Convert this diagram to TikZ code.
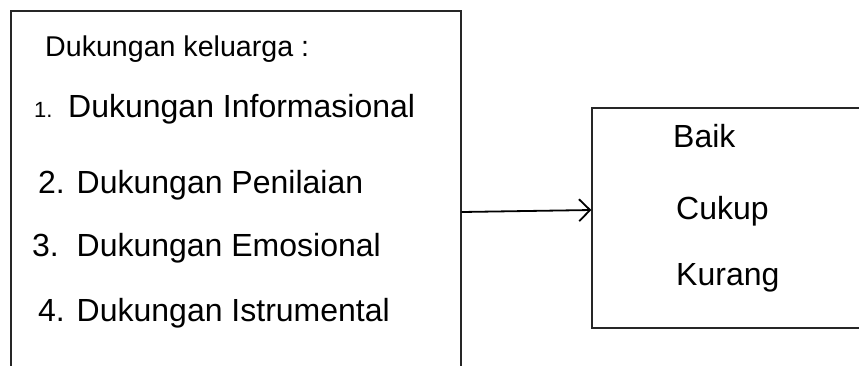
\documentclass[tikz,border=0pt]{standalone}
\usepackage{fontspec}
\setmainfont{Liberation Sans}
\usetikzlibrary{arrows.meta}
\begin{document}
\begin{tikzpicture}[x=1pt,y=-1pt,
  box/.style={draw=black!85, line width=1.3pt, minimum width=#1, inner sep=0pt},
  txt/.style={anchor=base west, inner sep=0pt, font=\fontsize{32}{38}\selectfont},
  hdr/.style={anchor=base west, inner sep=0pt, font=\fontsize{28.6}{34}\selectfont},
  arr/.style={line width=1.8pt, -{Straight Barb[length=11pt,width=22pt,line width=1.8pt]}}]
\useasboundingbox (0,0) rectangle (859,365);
\clip (0,0) rectangle (859,365);
\node[box=450pt, minimum height=370pt] (L) at (236,196) {};
\node[box=280pt, minimum height=220pt] (R) at (732,218) {};
\node[hdr] (h) at (45,56) {Dukungan keluarga :};
\node[anchor=base west, inner sep=0pt, font=\fontsize{22}{26}\selectfont] (n1) at (34,117) {1.};
\node[txt] (t1) at (68,117) {Dukungan Informasional};
\node[txt] (t2) at (38,193) {2. Dukungan Penilaian};
\node[txt] (t3) at (32,256) {3.\ \ Dukungan Emosional};
\node[txt] (t4) at (38,321) {4. Dukungan Istrumental};
\node[txt] (b1) at (673,147) {Baik};
\node[txt] (b2) at (676,219) {Cukup};
\node[txt] (b3) at (676,285) {Kurang};
\draw[arr] (L.east |- 0,212) -- (R.west |- 0,210);
\end{tikzpicture}
\end{document}
